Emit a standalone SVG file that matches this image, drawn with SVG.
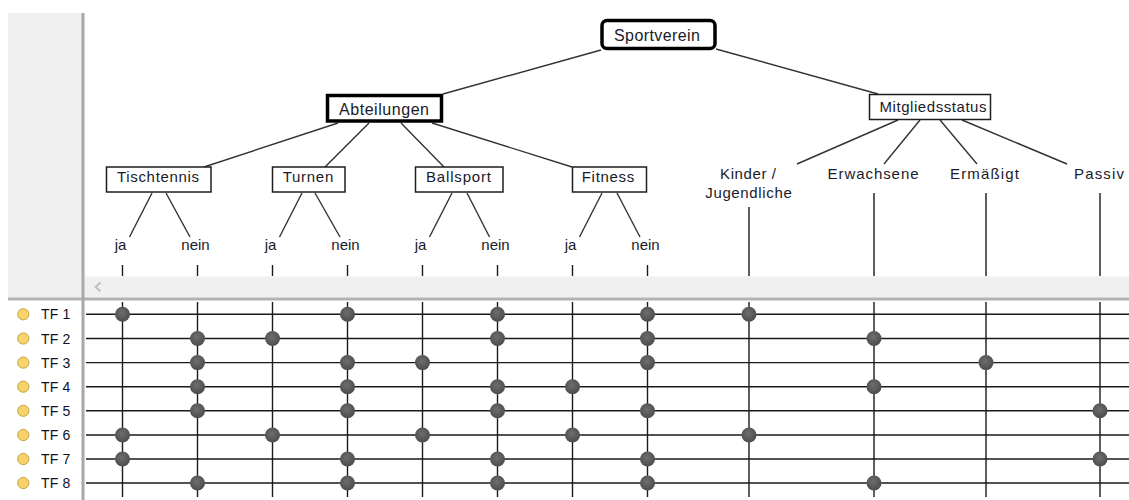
<svg xmlns="http://www.w3.org/2000/svg" width="1129" height="500" viewBox="0 0 1129 500">
<style>
text{font-family:"Liberation Sans",Arial,sans-serif;fill:#1a1a2a}
.lbl{font-size:15px;text-anchor:middle}
.big{font-size:16px;text-anchor:middle}
.tf{font-size:14px;letter-spacing:0.2px;fill:#10102a}
.box{fill:#fff;stroke:#1e1e1e;stroke-width:1.5}
.thick{fill:#fff;stroke:#000;stroke-width:3.5}
.e{stroke:#333;stroke-width:1.4;fill:none}
.g{stroke:#1a1a1a;stroke-width:1.4;fill:none}
.dot{fill:url(#dg)}
.bul{fill:#f6d36b;stroke:#c9a23e;stroke-width:1}
</style>
<defs>
<radialGradient id="dg" cx="0.45" cy="0.4" r="0.6">
<stop offset="0" stop-color="#6e6e6e"/>
<stop offset="1" stop-color="#4c4c4c"/>
</radialGradient>
</defs>
<rect width="1129" height="500" fill="#fff"/>
<g id="chrome">
<rect x="8" y="13" width="74" height="285" fill="#f0f0f0"/>
<rect x="84.5" y="276.5" width="1044.5" height="21" fill="#f0f0f0"/>
<polyline points="100.5,282.5 95.5,287 100.5,291.5" fill="none" stroke="#c0c0c0" stroke-width="2"/>
<rect x="8" y="297.5" width="1121" height="3" fill="#b2b2b2"/>
<rect x="81.5" y="13" width="3" height="487" fill="#a8a8a8"/>
</g>
<g id="connectors">
<line class="e" x1="601" y1="50" x2="443" y2="94"/>
<line class="e" x1="716" y1="49" x2="878" y2="94"/>
<line class="e" x1="338" y1="123" x2="204" y2="167"/>
<line class="e" x1="369" y1="123" x2="325" y2="167"/>
<line class="e" x1="401" y1="123" x2="444" y2="167"/>
<line class="e" x1="432" y1="123" x2="572" y2="167"/>
<line class="e" x1="898" y1="120" x2="797" y2="164"/>
<line class="e" x1="920" y1="120" x2="884" y2="164"/>
<line class="e" x1="940" y1="120" x2="977" y2="164"/>
<line class="e" x1="962" y1="120" x2="1067" y2="164"/>
<line class="e" x1="152" y1="193" x2="129.5" y2="237"/>
<line class="e" x1="166" y1="193" x2="190" y2="237"/>
<line class="e" x1="302" y1="193" x2="279.5" y2="237"/>
<line class="e" x1="315" y1="193" x2="340" y2="237"/>
<line class="e" x1="452" y1="193" x2="429.5" y2="237"/>
<line class="e" x1="467" y1="193" x2="489.5" y2="237"/>
<line class="e" x1="602" y1="193" x2="579.5" y2="237"/>
<line class="e" x1="617" y1="193" x2="640" y2="237"/>
<g class="g">
<path d="M122.5 265V276M197.5 265V276M272.5 265V276M347.5 265V276M422.5 265V276M497.5 265V276M572.5 265V276M647.5 265V276M749 207V276M874 193V276M986 193V276M1100 193V276"/>
<path d="M122.5 302V497M197.5 302V497M272.5 302V497M347.5 302V497M422.5 302V497M497.5 302V497M572.5 302V497M647.5 302V497M749 302V497M874 302V497M986 302V497M1100 302V497"/>
<path d="M86 314.3H1129M86 338.5H1129M86 362.6H1129M86 386.7H1129M86 410.8H1129M86 435H1129M86 459H1129M86 483H1129"/>
</g>
</g>
<g id="n-sportverein"><rect class="thick" x="602" y="20.5" width="113" height="28" rx="5"/><text class="big" x="657" y="41" textLength="86" lengthAdjust="spacing">Sportverein</text></g>
<g id="n-abteilungen"><rect class="thick" x="327.5" y="95.5" width="114" height="25.5"/><text class="big" x="384" y="114.5" textLength="90" lengthAdjust="spacing">Abteilungen</text></g>
<g id="n-mitgliedsstatus"><rect class="box" x="869.5" y="94.5" width="121" height="25"/><text class="lbl" x="933" y="112" textLength="107" lengthAdjust="spacing">Mitgliedsstatus</text></g>
<g id="n-tischtennis"><rect class="box" x="106.5" y="167" width="104.5" height="25"/><text class="lbl" x="158" y="182" textLength="82" lengthAdjust="spacing">Tischtennis</text></g>
<g id="n-turnen"><rect class="box" x="272.5" y="167" width="72.5" height="25"/><text class="lbl" x="308" y="182" textLength="50.5" lengthAdjust="spacing">Turnen</text></g>
<g id="n-ballsport"><rect class="box" x="415.5" y="167" width="87.5" height="25"/><text class="lbl" x="458.5" y="182" textLength="65" lengthAdjust="spacing">Ballsport</text></g>
<g id="n-fitness"><rect class="box" x="572.5" y="167" width="74" height="25"/><text class="lbl" x="608" y="182" textLength="52.5" lengthAdjust="spacing">Fitness</text></g>
<g id="n-kinder"><text class="lbl" x="748" y="179" textLength="56" lengthAdjust="spacing">Kinder /</text><text class="lbl" x="748.5" y="198" textLength="86.5" lengthAdjust="spacing">Jugendliche</text></g>
<g id="n-erwachsene"><text class="lbl" x="873" y="179" textLength="91" lengthAdjust="spacing">Erwachsene</text></g>
<g id="n-ermaessigt"><text class="lbl" x="984.5" y="179" textLength="69" lengthAdjust="spacing">Ermäßigt</text></g>
<g id="n-passiv"><text class="lbl" x="1099" y="179" textLength="50" lengthAdjust="spacing">Passiv</text></g>
<g id="n-leaves">
<text class="lbl" x="120.5" y="250">ja</text><text class="lbl" x="195.5" y="250">nein</text>
<text class="lbl" x="270.5" y="250">ja</text><text class="lbl" x="345.5" y="250">nein</text>
<text class="lbl" x="420.5" y="250">ja</text><text class="lbl" x="495.5" y="250">nein</text>
<text class="lbl" x="570.5" y="250">ja</text><text class="lbl" x="645.5" y="250">nein</text>
</g>
<g id="rows">
<circle class="bul" cx="23.3" cy="314.3" r="5.6"/><text class="tf" x="41" y="319.3">TF 1</text>
<circle class="bul" cx="23.3" cy="338.5" r="5.6"/><text class="tf" x="41" y="343.5">TF 2</text>
<circle class="bul" cx="23.3" cy="362.6" r="5.6"/><text class="tf" x="41" y="367.6">TF 3</text>
<circle class="bul" cx="23.3" cy="386.7" r="5.6"/><text class="tf" x="41" y="391.7">TF 4</text>
<circle class="bul" cx="23.3" cy="410.8" r="5.6"/><text class="tf" x="41" y="415.8">TF 5</text>
<circle class="bul" cx="23.3" cy="435" r="5.6"/><text class="tf" x="41" y="440">TF 6</text>
<circle class="bul" cx="23.3" cy="459" r="5.6"/><text class="tf" x="41" y="464">TF 7</text>
<circle class="bul" cx="23.3" cy="483" r="5.6"/><text class="tf" x="41" y="488">TF 8</text>
</g>
<g id="dots">
<circle class="dot" cx="122.5" cy="314.3" r="7.5"/><circle class="dot" cx="347.5" cy="314.3" r="7.5"/><circle class="dot" cx="497.5" cy="314.3" r="7.5"/><circle class="dot" cx="647.5" cy="314.3" r="7.5"/><circle class="dot" cx="749" cy="314.3" r="7.5"/>
<circle class="dot" cx="197.5" cy="338.5" r="7.5"/><circle class="dot" cx="272.5" cy="338.5" r="7.5"/><circle class="dot" cx="497.5" cy="338.5" r="7.5"/><circle class="dot" cx="647.5" cy="338.5" r="7.5"/><circle class="dot" cx="874" cy="338.5" r="7.5"/>
<circle class="dot" cx="197.5" cy="362.6" r="7.5"/><circle class="dot" cx="347.5" cy="362.6" r="7.5"/><circle class="dot" cx="422.5" cy="362.6" r="7.5"/><circle class="dot" cx="647.5" cy="362.6" r="7.5"/><circle class="dot" cx="986" cy="362.6" r="7.5"/>
<circle class="dot" cx="197.5" cy="386.7" r="7.5"/><circle class="dot" cx="347.5" cy="386.7" r="7.5"/><circle class="dot" cx="497.5" cy="386.7" r="7.5"/><circle class="dot" cx="572.5" cy="386.7" r="7.5"/><circle class="dot" cx="874" cy="386.7" r="7.5"/>
<circle class="dot" cx="197.5" cy="410.8" r="7.5"/><circle class="dot" cx="347.5" cy="410.8" r="7.5"/><circle class="dot" cx="497.5" cy="410.8" r="7.5"/><circle class="dot" cx="647.5" cy="410.8" r="7.5"/><circle class="dot" cx="1100" cy="410.8" r="7.5"/>
<circle class="dot" cx="122.5" cy="435" r="7.5"/><circle class="dot" cx="272.5" cy="435" r="7.5"/><circle class="dot" cx="422.5" cy="435" r="7.5"/><circle class="dot" cx="572.5" cy="435" r="7.5"/><circle class="dot" cx="749" cy="435" r="7.5"/>
<circle class="dot" cx="122.5" cy="459" r="7.5"/><circle class="dot" cx="347.5" cy="459" r="7.5"/><circle class="dot" cx="497.5" cy="459" r="7.5"/><circle class="dot" cx="647.5" cy="459" r="7.5"/><circle class="dot" cx="1100" cy="459" r="7.5"/>
<circle class="dot" cx="197.5" cy="483" r="7.5"/><circle class="dot" cx="347.5" cy="483" r="7.5"/><circle class="dot" cx="497.5" cy="483" r="7.5"/><circle class="dot" cx="647.5" cy="483" r="7.5"/><circle class="dot" cx="874" cy="483" r="7.5"/>
</g>
</svg>
